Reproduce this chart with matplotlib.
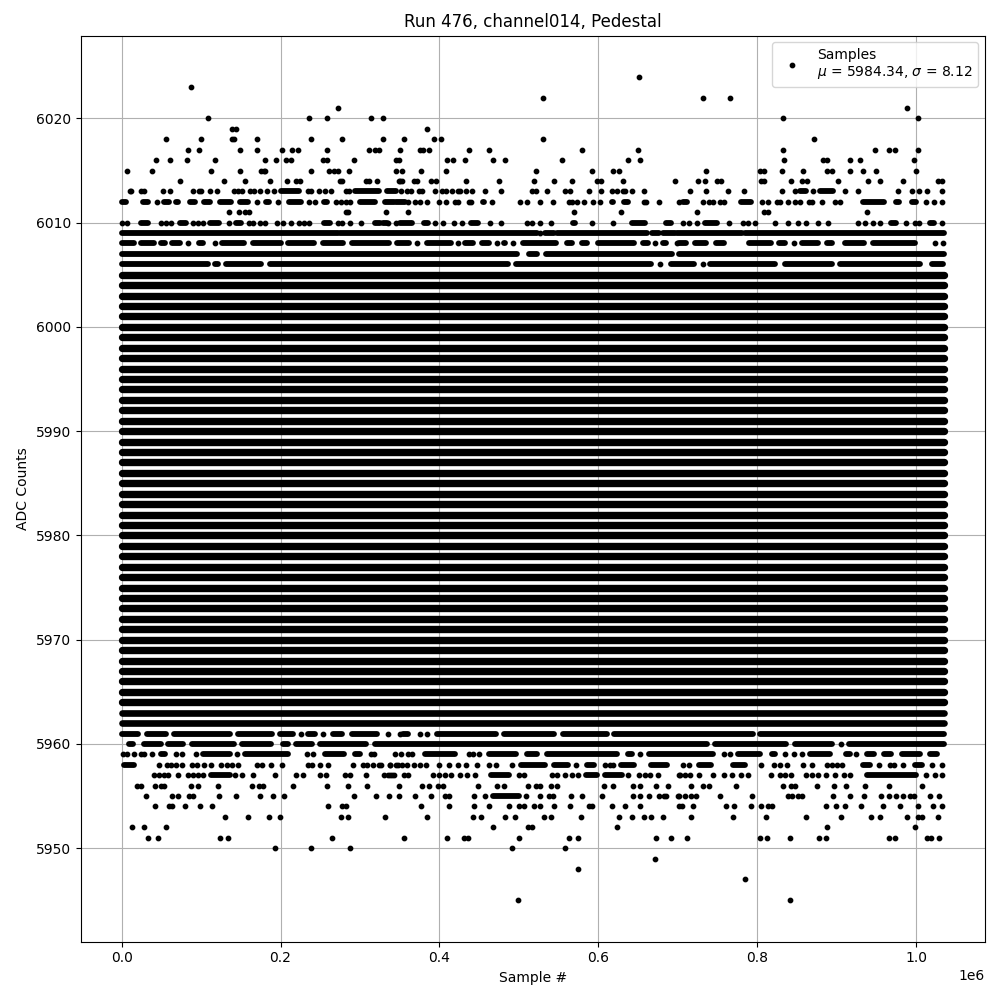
import matplotlib
matplotlib.use("Agg")
import matplotlib.pyplot as plt

TITLE = "Run 476, channel014, Pedestal"
XLABEL = "Sample #"
YLABEL = "ADC Counts"
MEAN = 5984.34
SIGMA = 8.12
LAST_SAMPLE_K = 1035

# Values below are sample numbers in thousands, read per ADC level.
# A plain number is a single sample; a tuple (a, b) is a stretch of samples
# so tightly packed that they merge into an unbroken band.
solid_levels = [5964, 5965, 5966, 5967, 5968, 5969, 5970, 5971, 5972, 5973, 5974,
                5975, 5976, 5977, 5978, 5979, 5980, 5981, 5982, 5983, 5984, 5985, 5986, 5987,
                5988, 5989, 5990, 5991, 5992, 5993, 5994, 5995, 5996, 5997, 5998, 5999, 6000,
                6001, 6002, 6003, 6004, 6005]
fringe_levels = [5962, 5963]

s6024 = [651]
s6023 = [87]
s6022 = [531, 732, 766]
s6021 = [272, 989]
s6020 = [109, 236, 258, 314, 329, 832, 1002]
s6019 = [139, 144, 385]
s6018 = [56, 100, 139, 141, 170, 239, 278, 329, 355, 393, 402, 531, 871]
s6017 = [83, 98, 149, 171, 202, 215, 222, 258, 311, 319, 324, 350, 375, 379, 387, 437, 463, 580, 650,
         833, 948, 966, 974, 1002]
s6016 = [43, 61, 82, 117, 180, 194, 207, 213, 254, 259, 293, 345, 349, 410, 417, 432, 467, 483, 554,
         637, 652, 834, 883, 888, 917, 930, 998]
s6015 = [7, 38, 112, 149, 176, 179, 181, 239, 261, 267, 272, 286, 346, 353, 377, 408, 522, 592, 619, 626,
         736, 803, 809, 831, 858, 888, 894, 917, 933, 950, 1000]
s6014 = [73, 129, 155, 187, 208, 220, 224, 275, 277, 307, 312, 322, 349, 351, 353, 368, 372, 389, 396,
         433, 475, 519, 544, 567, 599, 604, 631, 696, 725, 734, 749, 754, 805, 809, 842, 856, 863, 902,
         939, 954, 984, 1028, 1032]
s6013 = [11, 12, 24, 28, 52, 61, 90, 98, 100, 111, 120, 141, 146, 152, 162, 167, 174, 183, 192, (200, 223),
         234, 239, 248, 256, 263, 282, 286, (294, 324), (334, 345), 352, 359, 364, 374, 378, 395,
         403, 408, 416, 423, 426, 434, 441, 457, 478, 517, 522, 535, 558, 564, 588, 604, 617, 623, 631, 634,
         643, 657, 716, 735, 763, 783, 831, 847, (854, 862), 870, (879, 896), 910, 927, 977, 995, 1004, 1014, 1032]
s6012 = [(0, 6), (27, 33), 45, (53, 60), (68, 71), (86, 92), (104, 111), (124, 138), (149, 159), 170, (182, 185),
         197, (211, 226), 236, 244, (255, 258), 270, 276, 282, 288, (300, 319), (331, 343), (345, 357), 361, 369,
         375, 385, 400, 408, 420, 424, 437, 440, (455, 456), 466, (478, 478), 502, 510, 526, 543, 563, 567, 573,
         582, 593, 602, (617, 618), (632, 638), 657, 660, 677, 701, (706, 712), 732, 739, 745, 753, 758,
         (780, 792), 806, 814, 825, 829, 839, 848, 854, 865, 869, 881, 898, 904, (933, 960), (975, 979),
         (995, 1000), 1012, 1022, 1032]
s6011 = [135, 148, 155, 160, 283, 285, 333, 360, 570, 628, 724, 809, 814, 938]
s6010 = [1, 7, (25, 33), 50, 56, 62, (73, 81), 90, 96, 102, (111, 122), 135, (144, 150), 160, 166, 174, 181,
         196, 203, 213, 223, 229, 236, (255, 262), 272, 278, 287, 301, (319, 325), 335, 346, (329, 334),
         (350, 365), (381, 386), 395, 405, 418, 429, (440, 449), 464, 478, 510, 517, 526, 541, (568, 571), 592,
         619, (643, 659), (685, 691), 706, 714, 724, (734, 750), 765, 782, 789, 797, 823, 839, 851, 862, 876,
         889, 927, 936, 946, 954, (969, 975), 987, 999, 1004, (1017, 1023), 1033]
s6009 = [(0, 272), (275, 523), 527, (533, 544), (548, 661), (668, 676), (682, 697), (699, 781), (785, 1035)]
s6008 = [(0, 16), (25, 41), (50, 54), (63, 74), 84, (97, 103), 117, (126, 154), (166, 200), (210, 242), (254, 279),
         (290, 337), (347, 362), 372, (384, 414), 423, (432, 442), (453, 462), 473, (481, 483), 493, (505, 547),
         (560, 567), (579, 586), (600, 645), (656, 663), 672, (682, 685), 699, (701, 710), (722, 735), (748, 758),
         (790, 817), (827, 835), 846, (857, 877), (888, 894), (910, 934), (946, 999), (1012, 1013), 1024, 1034]
s6007 = [(0, 498), (513, 523), (534, 693), (701, 1035)]
s6006 = [(0, 109), (118, 121), (132, 175), (187, 486), (497, 666), 678, (692, 720), 732, (741, 823), (835, 894),
         (904, 1005), (1020, 1034)]

s5961 = [(0, 20), (32, 56), (66, 137), (147, 189), (199, 216), 226, (234, 244), 254, (266, 278), (290, 322), 335, 351,
         (354, 361), 375, 385, (397, 471), (481, 544), (556, 611), (620, 795), (803, 1035)]
s5960 = [(9, 14), (28, 50), (59, 77), (88, 142), (151, 188), (203, 209), (219, 240), (250, 307), (319, 737),
         (747, 836), (847, 894), 905, (916, 1035)]
s5959 = [2, 7, 15, 24, 28, 38, (50, 54), 68, 76, 94, (103, 136), 145, (155, 209), 233, 241, (256, 280), (294, 300),
         314, 318, 344, 352, 361, 366, (382, 420), 437, 442, 450, (462, 497), (510, 523), (535, 624), (637, 643), 653,
         (664, 745), 758, 766, (776, 803), (819, 823), 835, 846, 856, (866, 892), (912, 917), 925, (938, 947),
         (959, 968), (982, 1005), (1017, 1026)]
s5958 = [(3, 16), 47, 57, 62, 68, 76, 89, 95, 104, 112, 125, 133, 139, 146, 171, 177, 188, 202, 234, 240, 250, 260,
         291, 304, 309, 317, 324, 338, 348, 326, 338, 345, 353, 359, 368, 375, 383, 399, 412, 424, 434, 447, 463, 471,
         491, (503, 533), (544, 562), 572, (586, 594), 608, 615, 619, (629, 645), (666, 687), 707, 714, (727, 742),
         (770, 785), 805, 821, 829, 838, 858, 869, 888, 894, 900, 907, (933, 942), 953, 967, 972, 983,
         (999, 1008), 1020, 1032]
s5957 = [41, 47, 53, 58, 71, 84, 90, 96, 103, (112, 137), 143, 152, 166, 193, 219, 228, 250, 257, 281, 288, 307, 330,
         338, 343, 335, 340, 356, 361, 392, 399, 407, 415, 426, 435, 445, (465, 487), 500, 506, 542, 548, 558, 567, 575,
         (584, 598), (609, 630), 638, 651, 659, 665, 675, 701, 703, 709, 716, 727, 745, 758, 768, 779, 789, 817, 829,
         835, 843, 862, 869, 876, 886, 898, 909, 917, (938, 1000), 1012, 1024, 1032]
s5956 = [19, 24, 42, 50, 53, 87, 96, 121, 164, 173, 178, 216, 258, 285, 309, 349, 378, 387, 398, 405, 449, 473, 481, 511,
         521, 527, 540, 548, 607, 618, 644, 652, 673, 688, 717, 732, 739, 773, 833, 842, 847, 875, 897, 912, 936, 966, 1008]
s5955 = [31, 63, 71, 85, 90, 122, 144, 174, 190, 205, 293, 320, 336, 349, 369, 390, 407, 412, 443, 458, (468, 500), 509,
         526, 538, 543, 566, 580, 605, 644, 652, 664, 676, 685, 700, 683, 701, 709, 717, 723, 753, 793, 839, 844, 851, 857,
         895, 917, 935, 956, 966, 975, 983, 992, 997, 1017, 1029]
s5954 = [42, 60, 64, 80, 99, 114, 260, 278, 283, 377, 412, 443, 462, 488, 500, 506, 519, 526, 544, 565, 588, 592, 617, 634,
         653, 701, 705, 719, 761, 771, 792, 805, 813, 819, 886, 899, 911, 931, 958, 980, 1002, 1021, 1032]
s5953 = [130, 159, 185, 199, 276, 285, 331, 385, 442, 452, 482, 495, 532, 540, 578, 626, 643, 657, 666, 682, 717, 770, 811,
         862, 905, 943, 954, 989, 1002, 1007, 1027]
s5952 = [13, 28, 56, 468, 512, 516, 623, 888, 999]
s5951 = [33, 46, 124, 134, 265, 356, 409, 431, 436, 500, 563, 574, 673, 692, 712, 804, 812, 841, 878, 886, 966, 973,
         1014, 1019, 1029]
s5950 = [193, 239, 288, 492, 558]
s5949 = [671]
s5948 = [574]
s5947 = [785]
s5945 = [499, 841]

levels = [(6024, s6024), (6023, s6023), (6022, s6022), (6021, s6021), (6020, s6020), (6019, s6019), (6018, s6018),
          (6017, s6017), (6016, s6016), (6015, s6015), (6014, s6014), (6013, s6013), (6012, s6012), (6011, s6011),
          (6010, s6010), (6009, s6009), (6008, s6008), (6007, s6007), (6006, s6006), (5961, s5961), (5960, s5960),
          (5959, s5959), (5958, s5958), (5957, s5957), (5956, s5956), (5955, s5955), (5954, s5954), (5953, s5953),
          (5952, s5952), (5951, s5951), (5950, s5950), (5949, s5949), (5948, s5948), (5947, s5947), (5945, s5945)]

fig, ax = plt.subplots(figsize=(10, 10), dpi=100)
fig.subplots_adjust(left=0.0805, right=0.985, top=0.9645, bottom=0.0585)

px, py, bands = [], [], []
for level, items in levels:
    for item in items:
        if isinstance(item, tuple):
            bands.append((item[0], item[1], level, 4.2))
        else:
            px.append(item * 1000)
            py.append(level)
for level in fringe_levels:
    bands.append((0, LAST_SAMPLE_K, level, 4.8))
for level in solid_levels:
    bands.append((0, LAST_SAMPLE_K, level, 5.3))

ax.plot(px, py, "k.", ms=6.3, label=f"Samples\n$\\mu$ = {MEAN:.2f}, $\\sigma$ = {SIGMA:.2f}")
for a, b, level, width in bands:
    ax.plot([a * 1000, b * 1000], [level, level], color="k", lw=width,
            solid_capstyle="round", label="_nolegend_")

ax.set_title(TITLE)
ax.set_xlabel(XLABEL)
ax.set_ylabel(YLABEL)
ax.grid(True)
ax.legend(loc="upper right")
fig.savefig("out.png", dpi=100)
